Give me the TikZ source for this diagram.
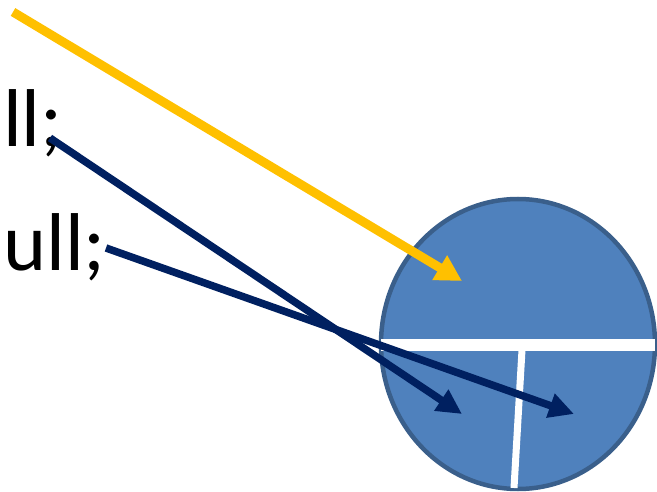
\documentclass[tikz,border=0pt]{standalone}
\usepackage{fontspec}
\setmainfont{Carlito}
\usetikzlibrary{arrows.meta,shapes.geometric}
\definecolor{cfill}{HTML}{4F81BD}
\definecolor{cborder}{HTML}{3A5F8B}
\definecolor{yel}{HTML}{FFC000}
\definecolor{navy}{HTML}{002060}
\tikzset{
  txt/.style={anchor=base west, inner sep=0pt, font=\fontsize{82}{90}\selectfont},
  yarrow/.style={draw=yel, line width=9pt, -{Triangle[length=26pt,width=27pt]}},
  narrow/.style={draw=navy, line width=7.5pt, -{Triangle[length=25pt,width=24pt]}},
  bar/.style={draw=white, line width=12pt},
  vbar/.style={draw=white, line width=7pt}
}
\begin{document}
\begin{tikzpicture}[x=1pt,y=-1pt]
\useasboundingbox (0,0) rectangle (657,492);
\node[txt] (t1) at (3,147) {ll;};
\node[txt] (t2) at (3,271) {ull;};
\node[ellipse, draw=cborder, fill=cfill, line width=4.5pt, minimum width=274pt, minimum height=290pt, inner sep=0pt] (c) at (518,344) {};
\coordinate (hl) at (381,345);
\coordinate (hr) at (655,345);
\coordinate (vt) at (522,350);
\coordinate (vb) at (514,488);
\draw[bar] (hl) -- (hr);
\draw[vbar] (vt) -- (vb);
\coordinate (ys) at (13,12);
\coordinate (ye) at (462,281);
\coordinate (n1s) at (50,138);
\coordinate (n1e) at (462,414);
\coordinate (n2s) at (106,248);
\coordinate (n2e) at (574,414);
\draw[yarrow] (ys) -- (ye);
\draw[narrow] (n1s) -- (n1e);
\draw[narrow] (n2s) -- (n2e);
\end{tikzpicture}
\end{document}
